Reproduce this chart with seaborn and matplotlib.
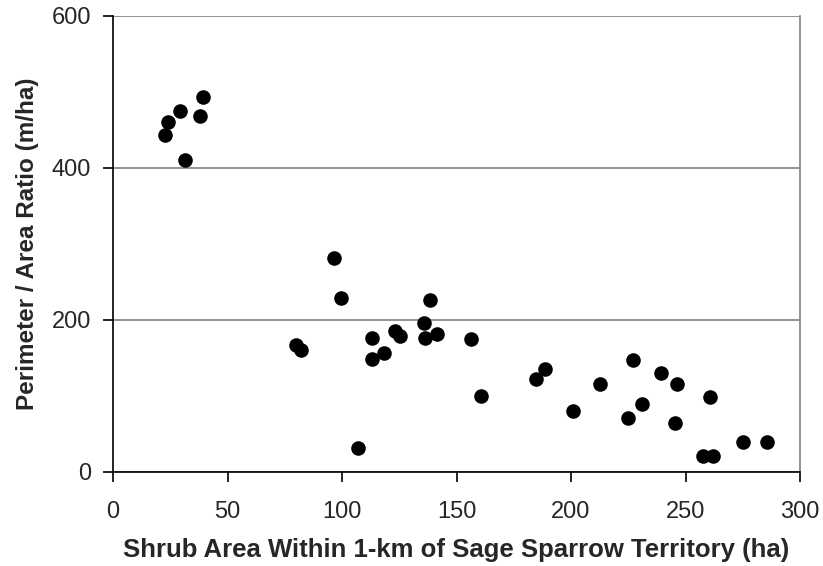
import matplotlib
matplotlib.use("Agg")
import matplotlib.pyplot as plt
import seaborn as sns
import pandas as pd

# shrub area (ha) and perimeter/area ratio (m/ha)
shrub_area = [22.6, 23.8, 29.3, 31.3, 38.0, 39.2,
              79.7, 82.0, 96.3, 99.6, 107.0, 113.0, 113.3, 118.4,
              123.1, 125.5, 135.6, 136.2, 138.5, 141.4, 156.3, 160.9,
              184.8, 188.7, 200.7, 212.6, 224.7, 227.2, 231.0, 239.1,
              245.3, 246.5, 257.8, 260.8, 262.1, 275.2, 285.4]
pa_ratio = [444, 460, 475, 411, 468, 494,
            167, 160, 282, 229, 32, 149, 176, 156,
            185, 179, 196, 176, 226, 181, 175, 100,
            123, 136, 80, 116, 71, 147, 90, 130,
            64, 116, 21, 99, 21, 40, 40]

df = pd.DataFrame({"area": shrub_area, "ratio": pa_ratio})

sns.set_style("white")
plt.rcParams["font.family"] = ["Liberation Sans", "DejaVu Sans"]

fig = plt.figure(figsize=(8.23, 5.66), dpi=100)
ax = fig.add_axes([113 / 823, 1 - 472 / 566, (800 - 113) / 823, (472 - 16) / 566])

ax.yaxis.grid(True, color="#808080", linewidth=1.2)
ax.set_axisbelow(True)

sns.scatterplot(data=df, x="area", y="ratio", ax=ax, color="black",
                s=110, edgecolor="black", linewidth=0, zorder=3)

ax.set_xlim(0, 300)
ax.set_ylim(0, 600)
ax.set_xticks([0, 50, 100, 150, 200, 250, 300])
ax.set_yticks([0, 200, 400, 600])

for side in ["left", "bottom"]:
    ax.spines[side].set_color("black")
    ax.spines[side].set_linewidth(1.2)
ax.spines["right"].set_color("#808080")
ax.spines["right"].set_linewidth(1.2)
ax.spines["top"].set_visible(False)

ax.tick_params(axis="both", direction="out", length=7, width=1.2,
               color="black", labelsize=17, left=True, bottom=True)
ax.tick_params(axis="x", pad=14)
ax.tick_params(axis="y", pad=9)

ax.set_xlabel("Shrub Area Within 1-km of Sage Sparrow Territory (ha)",
              fontsize=18.5, fontweight="bold", labelpad=11)
ax.set_ylabel("Perimeter / Area Ratio (m/ha)",
              fontsize=17.5, fontweight="bold", labelpad=9)

fig.savefig("out.png", dpi=100)
